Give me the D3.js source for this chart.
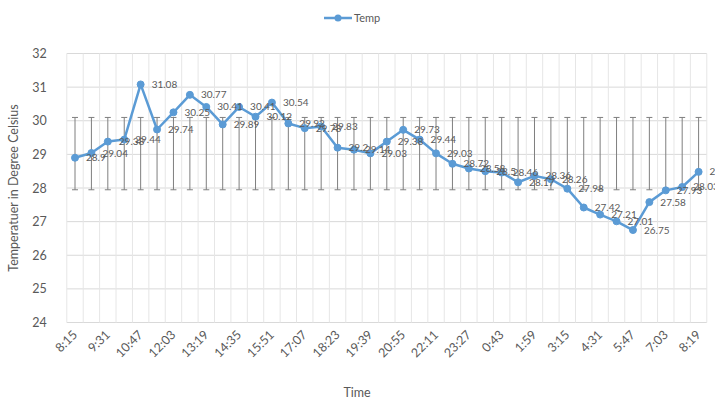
<!DOCTYPE html>
<html>
<head>
<meta charset="utf-8">
<script src="https://cdn.jsdelivr.net/npm/d3@7"></script>
<style>
  html, body { margin: 0; padding: 0; background: #ffffff; }
  svg { display: block; font-family: Lato, "Liberation Sans", sans-serif; }
</style>
</head>
<body>
<svg id="chart" width="715" height="403"></svg>
<script>
// Sampling times (every 38 minutes over one day)
const times = [
  "8:15","8:53","9:31","10:09","10:47","11:25","12:03","12:41","13:19","13:57",
  "14:35","15:13","15:51","16:29","17:07","17:45","18:23","19:01","19:39","20:17",
  "20:55","21:33","22:11","22:49","23:27","0:05","0:43","1:21","1:59","2:37",
  "3:15","3:53","4:31","5:09","5:47","6:25","7:03","7:41","8:19"
];

// Temperature readings, °C
const temps = [
  28.90, 29.04, 29.38, 29.44, 31.08, 29.74, 30.25, 30.77, 30.41, 29.89,
  30.41, 30.12, 30.54, 29.92, 29.78, 29.83, 29.20, 29.14, 29.03, 29.38,
  29.73, 29.44, 29.03, 28.72, 28.58, 28.50, 28.46, 28.17, 28.36, 28.26,
  27.98, 27.42, 27.21, 27.01, 26.75, 27.58, 27.93, 28.03, 28.48
];

const yTicks = [24, 25, 26, 27, 28, 29, 30, 31, 32];
const xTickLabels = times.filter((d, i) => i % 2 === 0);
const seriesName = "Temp";

const blue = "#5b9bd5";
const textGray = "#595959";

const svg = d3.select("#chart");

const plot = { left: 66.8, right: 706.8, top: 53.5, bottom: 322.5 };

const x = d3.scaleBand().domain(times).range([plot.left, plot.right]).padding(0);
const cx = d => x(d) + x.bandwidth() / 2;
const y = d3.scaleLinear().domain([24, 32]).range([plot.bottom, plot.top]);

// Horizontal gridlines
svg.append("g")
  .selectAll("line")
  .data(yTicks)
  .join("line")
  .attr("x1", plot.left).attr("x2", plot.right)
  .attr("y1", d => y(d)).attr("y2", d => y(d))
  .attr("stroke", "#d9d9d9").attr("stroke-width", 1);

// Vertical gridlines at category boundaries
const bounds = times.map(t => x(t)).concat([plot.right]);
svg.append("g")
  .selectAll("line")
  .data(bounds)
  .join("line")
  .attr("x1", d => d).attr("x2", d => d)
  .attr("y1", plot.top).attr("y2", plot.bottom)
  .attr("stroke", "#e6e6e6").attr("stroke-width", 1);

// Y axis labels
const yAxis = d3.axisLeft(y).tickValues(yTicks).tickSize(0).tickPadding(0).tickFormat(d3.format("d"));
svg.append("g")
  .attr("transform", `translate(${plot.left - 20},0)`)
  .call(yAxis)
  .call(g => g.select(".domain").remove())
  .call(g => g.selectAll("text")
    .attr("fill", textGray)
    .style("font-size", "12.5px")
    .style("font-family", "Lato, sans-serif"));

// X axis labels, rotated
const xAxis = d3.axisBottom(x).tickValues(xTickLabels).tickSize(0).tickPadding(0);
svg.append("g")
  .attr("transform", `translate(0,${plot.bottom})`)
  .call(xAxis)
  .call(g => g.select(".domain").remove())
  .call(g => g.selectAll("text")
    .attr("fill", textGray)
    .style("font-size", "12.5px")
    .style("font-family", "Lato, sans-serif")
    .attr("text-anchor", "end")
    .attr("dy", 0)
    .attr("transform", `translate(3,13) rotate(-45)`));

// Error bars: standard deviation around the series mean
const mean = d3.mean(temps);
const sd = d3.deviation(temps);
const errTop = y(mean + sd), errBot = y(mean - sd);
const eb = svg.append("g").attr("stroke", "#7f7f7f").attr("stroke-width", 1);
eb.selectAll("line.v")
  .data(times)
  .join("line")
  .attr("class", "v")
  .attr("x1", d => cx(d)).attr("x2", d => cx(d))
  .attr("y1", errTop).attr("y2", errBot);
[errTop, errBot].forEach(yy => {
  eb.append("g").selectAll("line")
    .data(times)
    .join("line")
    .attr("x1", d => cx(d) - 3).attr("x2", d => cx(d) + 3)
    .attr("y1", yy).attr("y2", yy);
});

// Temperature line and markers
const line = d3.line().x((d, i) => cx(times[i])).y(d => y(d));
svg.append("path")
  .datum(temps)
  .attr("d", line)
  .attr("fill", "none")
  .attr("stroke", blue)
  .attr("stroke-width", 2.5)
  .attr("stroke-linejoin", "round");

svg.append("g")
  .selectAll("circle")
  .data(temps)
  .join("circle")
  .attr("cx", (d, i) => cx(times[i]))
  .attr("cy", d => y(d))
  .attr("r", 3.5)
  .attr("fill", blue)
  .attr("stroke", blue);

// Data labels to the right of each point
svg.append("g")
  .selectAll("text")
  .data(temps)
  .join("text")
  .attr("x", (d, i) => cx(times[i]) + 11)
  .attr("y", d => y(d) + 3.5)
  .attr("fill", textGray)
  .style("font-size", "10px")
  .text(d => d3.format(".4~r")(d));

// Axis titles
svg.append("text")
  .attr("x", 357).attr("y", 397)
  .attr("text-anchor", "middle")
  .attr("fill", textGray)
  .style("font-size", "12.5px")
  .text("Time");

svg.append("text")
  .attr("transform", `translate(18,${(plot.top + plot.bottom) / 2}) rotate(-90)`)
  .attr("text-anchor", "middle")
  .attr("fill", textGray)
  .style("font-size", "12.5px")
  .text("Temperatuer in Degree Celsius");

// Legend
const lg = svg.append("g").attr("transform", "translate(324,18)");
lg.append("line").attr("x1", 0).attr("x2", 28).attr("y1", 0).attr("y2", 0)
  .attr("stroke", blue).attr("stroke-width", 2.5);
lg.append("circle").attr("cx", 14).attr("cy", 0).attr("r", 3.5).attr("fill", blue);
lg.append("text").attr("x", 30).attr("y", 4)
  .attr("fill", textGray).style("font-size", "11px").text(seriesName);
</script>
</body>
</html>
